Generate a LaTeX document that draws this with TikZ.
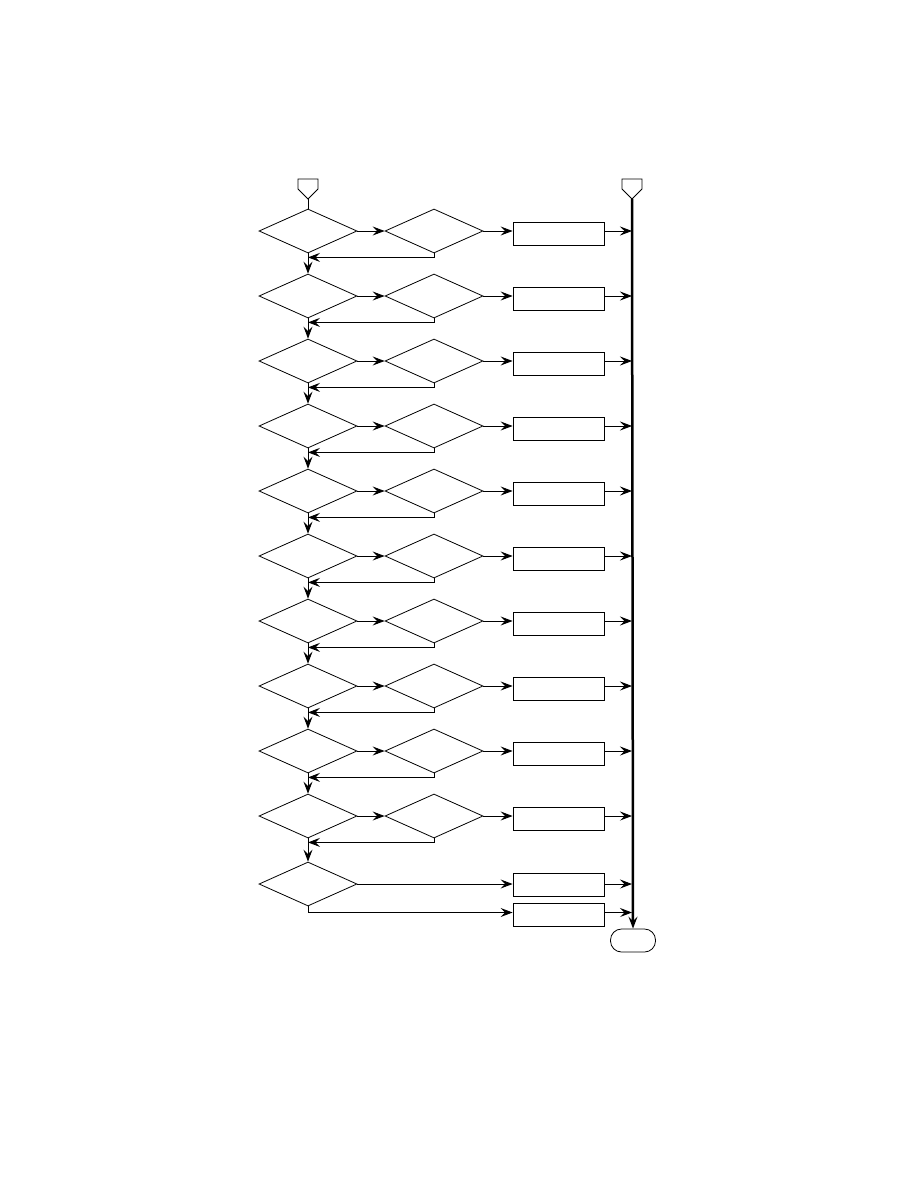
\documentclass[tikz,border=0pt]{standalone}
\usepackage{tikz}
\usetikzlibrary{calc}
\usetikzlibrary{arrows.meta}
\usetikzlibrary{shapes.geometric}

\tikzset{
  decision/.style={draw, diamond, minimum width=98pt, minimum height=44pt, inner sep=0pt, line width=0.8pt},
  process/.style={draw, rectangle, minimum width=91pt, minimum height=23pt, inner sep=0pt, line width=0.8pt},
  flow/.style={line width=0.9pt, -{Stealth[length=12pt,width=9pt,inset=4.5pt]}},
}

\begin{document}
\begin{tikzpicture}[x=1pt, y=-1pt]
\useasboundingbox (0,0) rectangle (918,1188);

% off-page connectors
\draw [line width=0.8pt] (298,179) -- (318,179) -- (318,189) -- (308,199) -- (298,189) -- cycle;
\coordinate (inL) at (308,199);
\draw [line width=0.8pt] (622,179) -- (642,179) -- (642,189) -- (632,199) -- (622,189) -- cycle;
\coordinate (inR) at (632,199);

% end terminal
\node[draw, rounded corners=11pt, minimum width=45pt, minimum height=23pt, line width=0.8pt] (stop) at (633,940.5) {};

% rows of tests
\foreach \i in {1,...,10}{
  \pgfmathsetmacro{\yValue}{231+65*(\i-1)}%
  \pgfmathsetmacro{\YValue}{\yValue+2.5}%
  \node[decision] (dA\i) at (308,\yValue) {};
  \node[decision] (dB\i) at (434,\yValue) {};
  \node[process] (box\i) at (558.5,\YValue) {};
}
\node[decision] (dA11) at (308,884) {};
\node[process] (box11) at (558.5,884.5) {};
\node[process] (box12) at (558.5,914.5) {};

\draw [line width=0.8pt] (inL) -- (dA1.north);

\foreach \i in {1,...,10}{
  \pgfmathtruncatemacro{\j}{\i+1}%
  \draw [flow] (dA\i.east) -- (dB\i.west);
  \draw [flow] (dB\i.east) -- (dB\i.east -| box\i.west);
  \draw [flow] (dB\i.east -| box\i.east) -- (dB\i.east -| inR);
  \draw [flow] (dB\i.south) |- ($(dA\i.south)+(0,4)$);
  \draw [flow] (dA\i.south) -- (dA\j.north);
}

% last test
\draw [flow] (dA11.east) -- (dA11.east -| box11.west);
\draw [flow] (dA11.south) |- ($(box12.west)+(0,-2)$);
\draw [flow] (dA11.east -| box11.east) -- (dA11.east -| inR);
\draw [flow] ($(box12.east)+(0,-2)$) -- ($(box12.east -| inR)+(0,-2)$);

% collecting line
\draw [line width=2.5pt, -{Stealth[length=12pt,width=9pt,inset=4.5pt]}] (inR) -- (stop.north);
\end{tikzpicture}
\end{document}
